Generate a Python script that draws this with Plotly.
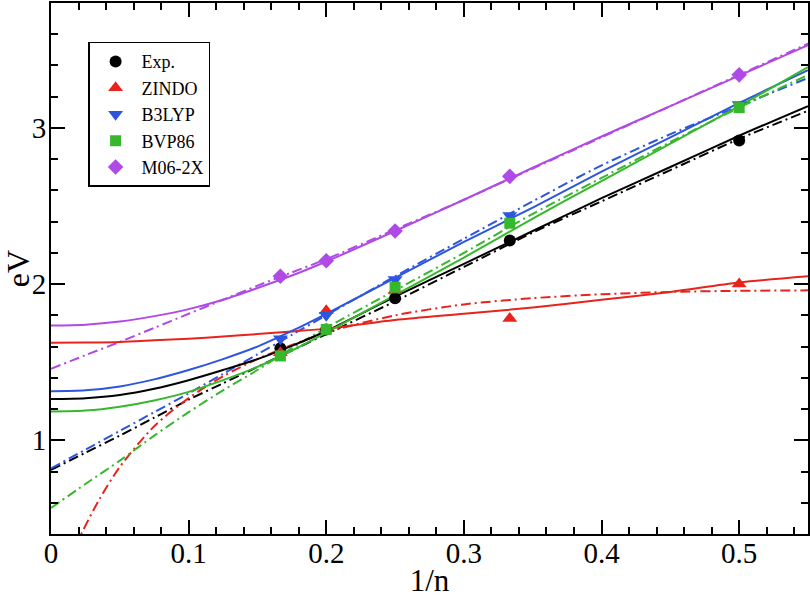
import plotly.graph_objects as go

# ---- data ----
inv_n = [1/6, 1/5, 1/4, 1/3, 1/2]
exp_vals = [1.59, 1.71, 1.91, 2.28, 2.92]
zindo_vals = [1.56, 1.83, 1.96, 1.78, 2.00]
b3lyp_vals = [1.65, 1.80, 2.03, 2.44, 3.15]
bvp86_vals = [1.54, 1.71, 1.98, 2.39, 3.13]
m06_vals = [2.05, 2.15, 2.34, 2.69, 3.34]

# fitted curves
fit_x = [0.0, 0.025, 0.05, 0.075, 0.1, 0.125, 0.15, 0.175, 0.2, 0.25, 0.3, 0.35, 0.4, 0.45, 0.5, 0.55]
exp_solid = [1.265, 1.27, 1.29, 1.33, 1.385, 1.45, 1.52, 1.605, 1.70, 1.92, 2.13, 2.34, 2.55, 2.75, 2.95, 3.14]
exp_dd = [0.81, 0.92, 1.03, 1.145, 1.26, 1.365, 1.47, 1.575, 1.68, 1.89, 2.11, 2.33, 2.53, 2.73, 2.93, 3.11]
zindo_solid = [1.624, 1.626, 1.63, 1.64, 1.65, 1.665, 1.68, 1.697, 1.715, 1.77, 1.81, 1.85, 1.90, 1.95, 2.01, 2.05]
b3lyp_solid = [1.314, 1.32, 1.345, 1.39, 1.45, 1.52, 1.60, 1.70, 1.81, 2.04, 2.27, 2.49, 2.72, 2.94, 3.16, 3.37]
b3lyp_dd = [0.82, 0.94, 1.06, 1.18, 1.30, 1.425, 1.55, 1.675, 1.80, 2.05, 2.29, 2.53, 2.76, 2.96, 3.14, 3.32]
bvp86_solid = [1.184, 1.19, 1.215, 1.255, 1.31, 1.385, 1.47, 1.575, 1.69, 1.93, 2.17, 2.42, 2.66, 2.90, 3.14, 3.39]
bvp86_dd = [0.567, 0.72, 0.87, 1.03, 1.18, 1.32, 1.45, 1.59, 1.72, 1.96, 2.20, 2.45, 2.68, 2.91, 3.13, 3.34]
m06_solid = [1.735, 1.74, 1.76, 1.795, 1.84, 1.90, 1.975, 2.055, 2.145, 2.34, 2.54, 2.745, 2.945, 3.14, 3.335, 3.53]
m06_dd = [1.458, 1.545, 1.63, 1.72, 1.81, 1.90, 1.99, 2.075, 2.16, 2.35, 2.54, 2.74, 2.94, 3.14, 3.34, 3.54]

zindo_dd_x = [0.012, 0.022, 0.035, 0.05, 0.075, 0.1, 0.125, 0.15, 0.175, 0.2,
              0.25, 0.3, 0.35, 0.4, 0.45, 0.5, 0.55]
zindo_dd = [0.20, 0.40, 0.62, 0.83, 1.09, 1.27, 1.41, 1.52, 1.61, 1.69,
            1.80, 1.87, 1.91, 1.935, 1.95, 1.957, 1.96]

names = ["Exp.", "ZINDO", "B3LYP", "BVP86", "M06-2X"]
colors = ["#000000", "#e8231c", "#2d55e0", "#35b82c", "#b04ae6"]
symbols = ["circle", "triangle-up", "triangle-down", "square", "diamond"]
sizes = [12, 13, 13, 11, 12]
point_sets = [exp_vals, zindo_vals, b3lyp_vals, bvp86_vals, m06_vals]

FONT = "Liberation Serif, Tinos, Times New Roman, Times, DejaVu Serif, serif"
DD = "10px,4px,2px,4px"

fig = go.Figure()

solid_sets = [exp_solid, zindo_solid, b3lyp_solid, bvp86_solid, m06_solid]
dd_sets = [(fit_x, exp_dd), (zindo_dd_x, zindo_dd), (fit_x, b3lyp_dd),
           (fit_x, bvp86_dd), (fit_x, m06_dd)]

for i in range(5):
    fig.add_trace(go.Scatter(x=dd_sets[i][0], y=dd_sets[i][1], mode="lines",
                             line=dict(color=colors[i], width=2, dash=DD, shape="spline",
                                       smoothing=0.8),
                             showlegend=False, hoverinfo="skip"))
for i in range(5):
    fig.add_trace(go.Scatter(x=fit_x, y=solid_sets[i], mode="lines",
                             line=dict(color=colors[i], width=2, shape="spline", smoothing=0.8),
                             showlegend=False, hoverinfo="skip"))
for i in range(5):
    fig.add_trace(go.Scatter(x=inv_n, y=point_sets[i], mode="markers", name=names[i],
                             marker=dict(color=colors[i], symbol=symbols[i], size=sizes[i],
                                         line=dict(width=0))))

axis_common = dict(
    showline=True, linecolor="black", linewidth=2, mirror="allticks",
    ticks="inside", ticklen=14, tickwidth=1.5, tickcolor="black",
    showgrid=False, zeroline=False, automargin=False,
    tickfont=dict(family=FONT, size=29, color="black"),
)

fig.update_xaxes(range=[0, 0.55], dtick=0.1, tick0=0,
                 minor=dict(dtick=0.02, ticks="inside", ticklen=7, tickwidth=1.5,
                            tickcolor="black", showgrid=False),
                 title=dict(text="1/n", font=dict(family=FONT, size=31, color="black"),
                            standoff=5),
                 ticklabelstandoff=-8,
                 **axis_common)
fig.update_yaxes(range=[0.4, 3.8], dtick=1, tick0=0,
                 minor=dict(dtick=0.2, ticks="inside", ticklen=7, tickwidth=1.5,
                            tickcolor="black", showgrid=False),
                 title=dict(text="eV", font=dict(family=FONT, size=32, color="black"),
                            standoff=12),
                 ticklabelstandoff=-3,
                 **axis_common)

fig.update_layout(
    width=810, height=598,
    margin=dict(l=51, r=2, t=3, b=64),
    paper_bgcolor="white", plot_bgcolor="white",
    font=dict(family=FONT, color="black"),
    legend=dict(x=0.049, y=0.927, xanchor="left", yanchor="top",
                bgcolor="white", bordercolor="black", borderwidth=1.5,
                font=dict(family=FONT, size=18, color="black"),
                tracegroupgap=0, itemwidth=42),
)

fig.write_html("out.html", config={"displayModeBar": False},
               post_script="document.body.style.margin='0';document.body.style.padding='0';")
